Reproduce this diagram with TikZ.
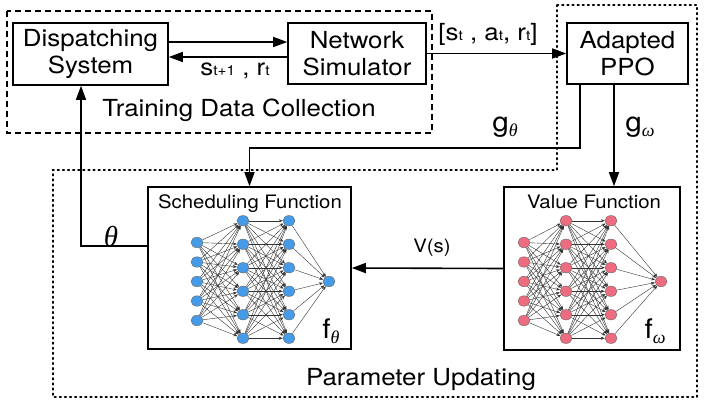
\documentclass[tikz,border=0pt]{standalone}
\usepackage{fontspec}
\setmainfont{TeX Gyre Heros}[FakeStretch=1.1]
\newfontfamily\greekfont{Liberation Serif}
\usetikzlibrary{arrows.meta,positioning,shapes.geometric}
\definecolor{neuronblue}{RGB}{70,155,232}
\definecolor{neuronpink}{RGB}{238,108,128}
\newcommand\lowidx[1]{{\fontsize{14}{14}\selectfont #1}}
\newcommand\greeksub[1]{\raisebox{-5pt}{\fontsize{18}{18}\selectfont\greekfont\itshape #1}}
% #1 prefix, #2--#5 layer x positions, #6 fill colour
\newcommand\drawnet[6]{%
  \foreach \i in {1,...,5}
    \node[neuron,fill=#6] (#1a\i) at (#2,{242.5+19.5*(\i-1)}) {};
  \foreach \i in {1,...,6} {
    \node[neuron,fill=#6] (#1b\i) at (#3,{220.75+23.5*(\i-1)}) {};
    \node[neuron,fill=#6] (#1c\i) at (#4,{220.75+23.5*(\i-1)}) {};
  }
  \node[neuron,fill=#6] (#1d) at (#5,281.5) {};
  \foreach \i in {1,...,5}
    \foreach \j in {1,...,6}
      \draw[synapse] (#1a\i) -- (#1b\j);
  \foreach \i in {1,...,6} {
    \foreach \j in {1,...,6}
      \draw[synapse] (#1b\i) -- (#1c\j);
    \draw[synapse] (#1c\i) -- (#1d);
  }
}
\begin{document}
\begin{tikzpicture}[x=1pt,y=-1pt,>={Triangle[length=14pt,width=10pt]},
  box/.style={draw,line width=1.6pt,inner sep=0pt,align=center,
              font=\fontsize{23.5}{27}\selectfont},
  lbl/.style={inner sep=0pt,font=\fontsize{23.5}{27}\selectfont},
  biglbl/.style={inner sep=0pt,font=\fontsize{27}{30}\selectfont},
  smalllbl/.style={inner sep=0pt,font=\fontsize{18.5}{21}\selectfont},
  neuron/.style={ellipse,draw=black!60,line width=0.4pt,minimum width=12pt,
                 minimum height=10.5pt,inner sep=0pt},
  synapse/.style={draw=black!80,line width=0.4pt,
                  -{Stealth[length=4pt,width=3pt]}},
  link/.style={->,line width=1.6pt}]
  \useasboundingbox (0,0) rectangle (705,407);

  % dashed and dotted regions
  \draw[line width=1.4pt,dash pattern=on 6pt off 4pt] (7,11) rectangle (432,133);
  \draw[line width=1.7pt,dash pattern=on 1.5pt off 3.6pt,line cap=round]
    (557,5) -- (697,5) -- (697,397) -- (53,397) -- (53,170) -- (557,170) -- cycle;

  % boxes
  \node[box,minimum width=155pt,minimum height=62pt] (disp) at (90.5,54) {Dispatching\\System};
  \node[box,minimum width=138pt,minimum height=61pt] (netsim) at (357,53.5) {Network\\Simulator};
  \node[box,minimum width=121pt,minimum height=61pt] (ppo) at (627.5,53.5) {Adapted\\PPO};
  \node[box,minimum width=203pt,minimum height=162pt] (sched) at (249.5,268) {};
  \node[box,minimum width=176pt,minimum height=163pt] (value) at (592,268.5) {};

  % texts
  \node[lbl] (tdc) at (239,110) {Training Data Collection};
  \node[lbl] (pu) at (421,379) {Parameter Updating};
  \node[smalllbl] (schedname) at (250,204) {Scheduling Function};
  \node[smalllbl] (valuename) at (594,202) {Value Function};
  \node[biglbl] (ftheta) at (331,331) {f\greeksub{θ}};
  \node[biglbl] (fomega) at (655,331) {f\greeksub{ω}};
  \node[lbl] (obs) at (235,71) {s\lowidx{t+1} , r\lowidx{t}};
  \node[lbl] (traj) at (488,34) {[s\lowidx{t} , a\lowidx{t}, r\lowidx{t}]};
  \node[biglbl] (gtheta) at (505,127) {g\greeksub{θ}};
  \node[biglbl] (gomega) at (640,127) {g\greeksub{ω}};
  \node[inner sep=0pt,font=\fontsize{29}{30}\selectfont\greekfont\itshape] (theta) at (111,237) {θ};
  \node[smalllbl] (vs) at (432,248) {V(s)};

  % networks
  \drawnet{s}{197}{243}{289}{329}{neuronblue}
  \drawnet{v}{524}{566}{611}{661}{neuronpink}

  % connectors
  \draw[link] ([yshift=12pt]disp.east) -- ([yshift=12pt]disp.east -| netsim.west);
  \draw[link] ([yshift=-3.5pt]netsim.west) -- ([yshift=-3.5pt]netsim.west -| disp.east);
  \draw[link] (netsim.east) -- (ppo.west);
  \draw[link] ([xshift=-47.5pt]ppo.south) -- ++(0,63) -| (sched.north);
  \draw[link] ([xshift=-13.5pt]ppo.south) -- ([xshift=-13.5pt]ppo.south |- value.north);
  \draw[link] (value.west) -- (sched.east);
  \draw[link] ([yshift=22pt]sched.west) -| ([xshift=-9.5pt]disp.south);
\end{tikzpicture}
\end{document}
